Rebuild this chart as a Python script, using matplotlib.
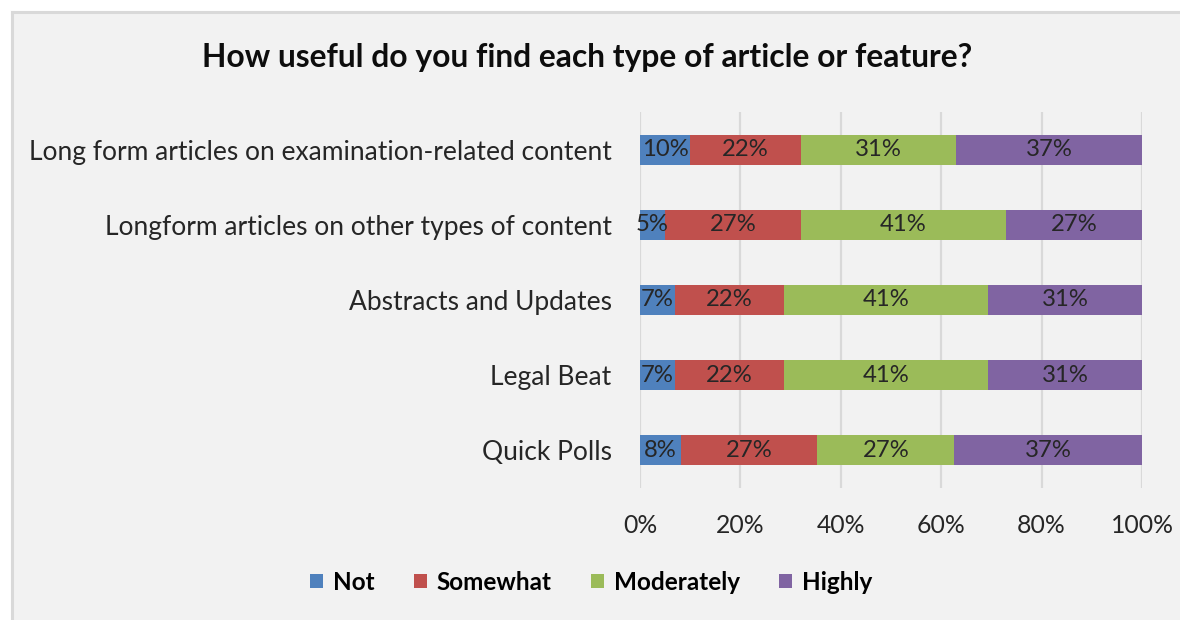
import matplotlib
matplotlib.use("Agg")
import matplotlib.pyplot as plt
from matplotlib.patches import Rectangle
from matplotlib.lines import Line2D
import numpy as np

categories = [
    "Long form articles on examination-related content",
    "Longform articles on other types of content",
    "Abstracts and Updates",
    "Legal Beat",
    "Quick Polls",
]
series_names = ["Not", "Somewhat", "Moderately", "Highly"]
not_useful = [10, 5, 7, 7, 8]
somewhat_useful = [22, 27, 22, 22, 27]
moderately_useful = [31, 41, 41, 41, 27]
highly_useful = [37, 27, 31, 31, 37]
x_ticks = [0, 20, 40, 60, 80, 100]
x_tick_labels = ["0%", "20%", "40%", "60%", "80%", "100%"]
title = "How useful do you find each type of article or feature?"

colors = ["#4f81bd", "#c0504d", "#9bbb59", "#8064a2"]

plt.rcParams["font.family"] = ["Lato", "DejaVu Sans"]

W, H = 1180, 620
fig = plt.figure(figsize=(W / 100, H / 100), dpi=100)
fig.patch.set_facecolor("white")
fig.patch.set_edgecolor("none")
fig.patch.set_linewidth(0)

# chart area panel, running off the right and bottom edges
x0, y0 = 12 / W, 1 - 12 / H
panel = Rectangle((x0, -0.05), 1.1 - x0, y0 + 0.05, transform=fig.transFigure,
                  facecolor="#f2f2f2", edgecolor="none", linewidth=0, zorder=-5)
fig.patches.append(panel)
fig.lines.append(Line2D([x0, x0], [-0.05, y0], transform=fig.transFigure,
                        color="#d9d9d9", linewidth=2.2, zorder=-4))
fig.lines.append(Line2D([x0, 1.05], [y0, y0], transform=fig.transFigure,
                        color="#d9d9d9", linewidth=2.2, zorder=-4))

ax = fig.add_axes([640 / W, 1 - 488 / H, (1142 - 640) / W, (488 - 112) / H])
ax.set_facecolor("none")
ax.set_zorder(2)

values = np.array([not_useful, somewhat_useful, moderately_useful, highly_useful], dtype=float)
shares = values / values.sum(axis=0) * 100
y = np.arange(len(categories))
left = np.zeros(len(categories))
for i, name in enumerate(series_names):
    bars = ax.barh(y, shares[i], left=left, height=0.4, color=colors[i],
                   label=name, zorder=3)
    for j, b in enumerate(bars):
        ax.text(left[j] + shares[i][j] / 2, y[j], f"{int(values[i][j])}%",
                ha="center", va="center", fontsize=17.2, color="#262626", zorder=4)
    left += shares[i]

ax.set_xlim(0, 100)
ax.set_ylim(len(categories) - 0.5, -0.5)
ax.set_xticks(x_ticks)
ax.set_xticklabels(x_tick_labels, fontsize=17.8, color="#262626")
ax.set_yticks(y)
ax.set_yticklabels(categories, fontsize=19, color="#262626")
ax.tick_params(axis="both", length=0)
ax.tick_params(axis="y", pad=20.5)
ax.tick_params(axis="x", pad=19)
for s in ax.spines.values():
    s.set_visible(False)
ax.grid(axis="x", color="#d9d9d9", linewidth=1.6, zorder=1)
ax.set_axisbelow(True)

fig.text(587 / W, 1 - 57 / H, title, ha="center", va="center",
         fontsize=22.9, fontweight="bold", color="#0d0d0d")

handles, labels = ax.get_legend_handles_labels()
fig.legend(handles, labels, loc="center", bbox_to_anchor=(591 / W, 1 - 582 / H),
           ncol=4, frameon=False, handlelength=0.55, handleheight=0.55,
           handletextpad=0.4, columnspacing=1.6,
           prop={"weight": "bold", "size": 17.5})

fig.savefig("out.png", dpi=100, facecolor=fig.get_facecolor())
